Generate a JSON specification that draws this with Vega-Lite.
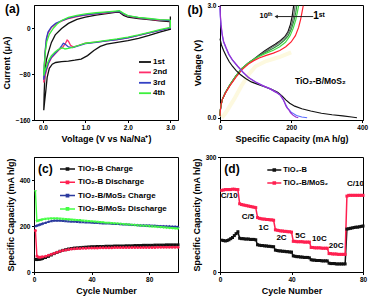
{
"$schema": "https://vega.github.io/schema/vega-lite/v6.json",
"background": "white",
"padding": {"left": 1, "top": 2, "right": 2, "bottom": 2},
"datasets": {
"cv": [
{"s":"1st","v":3.0,"i":20},{"s":"1st","v":3.0,"i":-2},{"s":"1st","v":2.75,"i":-7},{"s":"1st","v":2.5,"i":-13},{"s":"1st","v":2.25,"i":-18},{"s":"1st","v":2.0,"i":-22},{"s":"1st","v":1.75,"i":-25},{"s":"1st","v":1.5,"i":-28},{"s":"1st","v":1.35,"i":-32},{"s":"1st","v":1.2,"i":-39},{"s":"1st","v":1.05,"i":-48},{"s":"1st","v":0.9,"i":-54},{"s":"1st","v":0.75,"i":-56},{"s":"1st","v":0.6,"i":-57.5},{"s":"1st","v":0.44,"i":-58.5},{"s":"1st","v":0.3,"i":-60},{"s":"1st","v":0.22,"i":-63},{"s":"1st","v":0.15,"i":-70},{"s":"1st","v":0.1,"i":-86},{"s":"1st","v":0.07,"i":-108},{"s":"1st","v":0.04,"i":-128},{"s":"1st","v":0.02,"i":-143},
{"s":"1st","v":0.03,"i":-112},{"s":"1st","v":0.05,"i":-76},{"s":"1st","v":0.08,"i":-56},{"s":"1st","v":0.13,"i":-42},{"s":"1st","v":0.2,"i":-25},{"s":"1st","v":0.29,"i":-12},{"s":"1st","v":0.44,"i":-1},{"s":"1st","v":0.6,"i":8},{"s":"1st","v":0.8,"i":15},{"s":"1st","v":1.0,"i":19},{"s":"1st","v":1.25,"i":22.5},{"s":"1st","v":1.5,"i":25},{"s":"1st","v":1.7,"i":27},{"s":"1st","v":1.8,"i":27.5},{"s":"1st","v":1.9,"i":22},{"s":"1st","v":2.0,"i":19},{"s":"1st","v":2.25,"i":16.5},{"s":"1st","v":2.5,"i":14.5},{"s":"1st","v":2.75,"i":12.5},{"s":"1st","v":2.98,"i":11},
{"s":"2nd","v":3.0,"i":13},{"s":"2nd","v":3.0,"i":0},{"s":"2nd","v":2.75,"i":-4},{"s":"2nd","v":2.5,"i":-8.5},{"s":"2nd","v":2.25,"i":-13},{"s":"2nd","v":2.0,"i":-17},{"s":"2nd","v":1.75,"i":-20},{"s":"2nd","v":1.5,"i":-22.5},{"s":"2nd","v":1.25,"i":-24.5},{"s":"2nd","v":1.0,"i":-26.5},{"s":"2nd","v":0.85,"i":-30},{"s":"2nd","v":0.72,"i":-33},{"s":"2nd","v":0.65,"i":-30},{"s":"2nd","v":0.6,"i":-23},{"s":"2nd","v":0.57,"i":-21},{"s":"2nd","v":0.53,"i":-27},{"s":"2nd","v":0.47,"i":-33},{"s":"2nd","v":0.38,"i":-38},{"s":"2nd","v":0.3,"i":-44},{"s":"2nd","v":0.2,"i":-52},{"s":"2nd","v":0.13,"i":-62},{"s":"2nd","v":0.08,"i":-75},{"s":"2nd","v":0.04,"i":-87},{"s":"2nd","v":0.02,"i":-95},
{"s":"2nd","v":0.03,"i":-75},{"s":"2nd","v":0.05,"i":-45},{"s":"2nd","v":0.08,"i":-22},{"s":"2nd","v":0.12,"i":-9},{"s":"2nd","v":0.2,"i":1},{"s":"2nd","v":0.3,"i":7},{"s":"2nd","v":0.45,"i":12.5},{"s":"2nd","v":0.6,"i":16.5},{"s":"2nd","v":0.8,"i":20},{"s":"2nd","v":1.0,"i":22.5},{"s":"2nd","v":1.25,"i":24.5},{"s":"2nd","v":1.5,"i":26.5},{"s":"2nd","v":1.7,"i":28.5},{"s":"2nd","v":1.8,"i":29},{"s":"2nd","v":1.9,"i":24},{"s":"2nd","v":2.0,"i":20.5},{"s":"2nd","v":2.25,"i":17.5},{"s":"2nd","v":2.5,"i":15.5},{"s":"2nd","v":2.75,"i":13.5},{"s":"2nd","v":3.0,"i":13},
{"s":"3rd","v":3.0,"i":13},{"s":"3rd","v":3.0,"i":0},{"s":"3rd","v":2.75,"i":-4},{"s":"3rd","v":2.5,"i":-8.5},{"s":"3rd","v":2.25,"i":-13},{"s":"3rd","v":2.0,"i":-17},{"s":"3rd","v":1.75,"i":-20},{"s":"3rd","v":1.5,"i":-22.5},{"s":"3rd","v":1.25,"i":-25},{"s":"3rd","v":1.0,"i":-27},{"s":"3rd","v":0.85,"i":-30.5},{"s":"3rd","v":0.7,"i":-34},{"s":"3rd","v":0.6,"i":-33},{"s":"3rd","v":0.52,"i":-28},{"s":"3rd","v":0.48,"i":-26.5},{"s":"3rd","v":0.44,"i":-31},{"s":"3rd","v":0.38,"i":-37},{"s":"3rd","v":0.3,"i":-43},{"s":"3rd","v":0.2,"i":-51},{"s":"3rd","v":0.13,"i":-61},{"s":"3rd","v":0.08,"i":-72},{"s":"3rd","v":0.04,"i":-82},{"s":"3rd","v":0.02,"i":-90},
{"s":"3rd","v":0.03,"i":-70},{"s":"3rd","v":0.05,"i":-42},{"s":"3rd","v":0.08,"i":-19},{"s":"3rd","v":0.12,"i":-7},{"s":"3rd","v":0.2,"i":2},{"s":"3rd","v":0.3,"i":8},{"s":"3rd","v":0.45,"i":13},{"s":"3rd","v":0.6,"i":17},{"s":"3rd","v":0.8,"i":20.5},{"s":"3rd","v":1.0,"i":23},{"s":"3rd","v":1.25,"i":25},{"s":"3rd","v":1.5,"i":27},{"s":"3rd","v":1.7,"i":28.5},{"s":"3rd","v":1.8,"i":29},{"s":"3rd","v":1.9,"i":24.5},{"s":"3rd","v":2.0,"i":21},{"s":"3rd","v":2.25,"i":18},{"s":"3rd","v":2.5,"i":16},{"s":"3rd","v":2.75,"i":14},{"s":"3rd","v":3.0,"i":13},
{"s":"4th","v":3.0,"i":14},{"s":"4th","v":3.0,"i":1},{"s":"4th","v":2.75,"i":-3},{"s":"4th","v":2.5,"i":-7.5},{"s":"4th","v":2.25,"i":-12},{"s":"4th","v":2.0,"i":-16},{"s":"4th","v":1.75,"i":-19},{"s":"4th","v":1.5,"i":-21.5},{"s":"4th","v":1.25,"i":-24},{"s":"4th","v":1.0,"i":-26.5},{"s":"4th","v":0.85,"i":-30},{"s":"4th","v":0.7,"i":-33.5},{"s":"4th","v":0.6,"i":-35.5},{"s":"4th","v":0.52,"i":-36.5},{"s":"4th","v":0.47,"i":-34.5},{"s":"4th","v":0.42,"i":-35},{"s":"4th","v":0.35,"i":-38},{"s":"4th","v":0.28,"i":-42},{"s":"4th","v":0.2,"i":-48},{"s":"4th","v":0.13,"i":-57},{"s":"4th","v":0.08,"i":-67},{"s":"4th","v":0.04,"i":-76},{"s":"4th","v":0.02,"i":-83},
{"s":"4th","v":0.03,"i":-65},{"s":"4th","v":0.06,"i":-40},{"s":"4th","v":0.09,"i":-24},{"s":"4th","v":0.15,"i":-11},{"s":"4th","v":0.25,"i":0},{"s":"4th","v":0.35,"i":8},{"s":"4th","v":0.45,"i":13.5},{"s":"4th","v":0.6,"i":18.5},{"s":"4th","v":0.8,"i":22},{"s":"4th","v":1.0,"i":24.5},{"s":"4th","v":1.25,"i":26.5},{"s":"4th","v":1.5,"i":28},{"s":"4th","v":1.7,"i":29.5},{"s":"4th","v":1.8,"i":30},{"s":"4th","v":1.9,"i":25.5},{"s":"4th","v":2.0,"i":21.5},{"s":"4th","v":2.25,"i":18.5},{"s":"4th","v":2.5,"i":16.5},{"s":"4th","v":2.75,"i":14.5},{"s":"4th","v":3.0,"i":14}
],
"yb": [
{"c":5,"v":0.0},{"c":15,"v":0.12},{"c":25,"v":0.27},{"c":40,"v":0.5},{"c":60,"v":0.85},{"c":80,"v":1.15},{"c":100,"v":1.38},{"c":130,"v":1.52},{"c":165,"v":1.62},{"c":200,"v":1.75}
],
"gc": [
{"s":"cb","c":0,"v":0.05},{"s":"cb","c":1,"v":0.2},{"s":"cb","c":3,"v":0.35},{"s":"cb","c":7,"v":0.5},{"s":"cb","c":15,"v":0.67},{"s":"cb","c":28,"v":0.88},{"s":"cb","c":45,"v":1.12},{"s":"cb","c":62,"v":1.32},{"s":"cb","c":80,"v":1.47},{"s":"cb","c":95,"v":1.57},{"s":"cb","c":110,"v":1.68},{"s":"cb","c":125,"v":1.79},{"s":"cb","c":140,"v":1.88},{"s":"cb","c":155,"v":1.97},{"s":"cb","c":170,"v":2.07},{"s":"cb","c":182,"v":2.17},{"s":"cb","c":191,"v":2.3},{"s":"cb","c":198,"v":2.5},{"s":"cb","c":203,"v":2.72},{"s":"cb","c":207,"v":3.0},
{"s":"cg","c":0,"v":0.05},{"s":"cg","c":1,"v":0.2},{"s":"cg","c":3,"v":0.35},{"s":"cg","c":7,"v":0.5},{"s":"cg","c":15,"v":0.67},{"s":"cg","c":28,"v":0.88},{"s":"cg","c":45,"v":1.12},{"s":"cg","c":62,"v":1.32},{"s":"cg","c":80,"v":1.47},{"s":"cg","c":95,"v":1.57},{"s":"cg","c":110,"v":1.67},{"s":"cg","c":128,"v":1.78},{"s":"cg","c":145,"v":1.88},{"s":"cg","c":160,"v":1.97},{"s":"cg","c":175,"v":2.08},{"s":"cg","c":187,"v":2.2},{"s":"cg","c":196,"v":2.35},{"s":"cg","c":203,"v":2.55},{"s":"cg","c":208,"v":2.78},{"s":"cg","c":211,"v":3.0},
{"s":"cd","c":0,"v":0.05},{"s":"cd","c":1,"v":0.2},{"s":"cd","c":3,"v":0.35},{"s":"cd","c":7,"v":0.5},{"s":"cd","c":15,"v":0.67},{"s":"cd","c":28,"v":0.88},{"s":"cd","c":45,"v":1.12},{"s":"cd","c":62,"v":1.32},{"s":"cd","c":80,"v":1.47},{"s":"cd","c":95,"v":1.57},{"s":"cd","c":110,"v":1.66},{"s":"cd","c":130,"v":1.76},{"s":"cd","c":150,"v":1.86},{"s":"cd","c":165,"v":1.95},{"s":"cd","c":180,"v":2.07},{"s":"cd","c":192,"v":2.2},{"s":"cd","c":201,"v":2.38},{"s":"cd","c":208,"v":2.6},{"s":"cd","c":213,"v":2.82},{"s":"cd","c":216,"v":3.0},
{"s":"cl","c":0,"v":0.05},{"s":"cl","c":1,"v":0.2},{"s":"cl","c":3,"v":0.35},{"s":"cl","c":7,"v":0.5},{"s":"cl","c":15,"v":0.67},{"s":"cl","c":28,"v":0.88},{"s":"cl","c":45,"v":1.12},{"s":"cl","c":62,"v":1.32},{"s":"cl","c":80,"v":1.47},{"s":"cl","c":95,"v":1.56},{"s":"cl","c":110,"v":1.64},{"s":"cl","c":130,"v":1.73},{"s":"cl","c":150,"v":1.81},{"s":"cl","c":168,"v":1.9},{"s":"cl","c":184,"v":2.02},{"s":"cl","c":197,"v":2.2},{"s":"cl","c":206,"v":2.4},{"s":"cl","c":213,"v":2.62},{"s":"cl","c":218,"v":2.85},{"s":"cl","c":221,"v":3.0},
{"s":"cr","c":0,"v":0.05},{"s":"cr","c":1,"v":0.2},{"s":"cr","c":3,"v":0.35},{"s":"cr","c":7,"v":0.5},{"s":"cr","c":15,"v":0.66},{"s":"cr","c":28,"v":0.86},{"s":"cr","c":45,"v":1.09},{"s":"cr","c":62,"v":1.29},{"s":"cr","c":80,"v":1.44},{"s":"cr","c":95,"v":1.53},{"s":"cr","c":110,"v":1.6},{"s":"cr","c":130,"v":1.67},{"s":"cr","c":150,"v":1.73},{"s":"cr","c":168,"v":1.8},{"s":"cr","c":185,"v":1.9},{"s":"cr","c":200,"v":2.03},{"s":"cr","c":212,"v":2.2},{"s":"cr","c":221,"v":2.42},{"s":"cr","c":227,"v":2.65},{"s":"cr","c":231,"v":2.85},{"s":"cr","c":234,"v":3.0},
{"s":"db","c":0,"v":2.12},{"s":"db","c":4,"v":1.95},{"s":"db","c":10,"v":1.8},{"s":"db","c":18,"v":1.64},{"s":"db","c":26,"v":1.5},{"s":"db","c":35,"v":1.38},{"s":"db","c":45,"v":1.27},{"s":"db","c":58,"v":1.15},{"s":"db","c":72,"v":1.05},{"s":"db","c":88,"v":0.96},{"s":"db","c":105,"v":0.9},{"s":"db","c":125,"v":0.83},{"s":"db","c":145,"v":0.76},{"s":"db","c":162,"v":0.68},{"s":"db","c":175,"v":0.58},{"s":"db","c":185,"v":0.48},{"s":"db","c":196,"v":0.39},{"s":"db","c":210,"v":0.31},{"s":"db","c":230,"v":0.24},{"s":"db","c":255,"v":0.18},{"s":"db","c":285,"v":0.12},{"s":"db","c":315,"v":0.08},{"s":"db","c":345,"v":0.05},{"s":"db","c":370,"v":0.02},{"s":"db","c":385,"v":0.0},
{"s":"du","c":0,"v":2.95},{"s":"du","c":1,"v":2.7},{"s":"du","c":3,"v":2.45},{"s":"du","c":6,"v":2.22},{"s":"du","c":10,"v":2.03},{"s":"du","c":17,"v":1.86},{"s":"du","c":25,"v":1.69},{"s":"du","c":35,"v":1.54},{"s":"du","c":50,"v":1.37},{"s":"du","c":65,"v":1.21},{"s":"du","c":80,"v":1.08},{"s":"du","c":100,"v":0.96},{"s":"du","c":120,"v":0.86},{"s":"du","c":140,"v":0.78},{"s":"du","c":158,"v":0.68},{"s":"du","c":170,"v":0.6},{"s":"du","c":177,"v":0.5},{"s":"du","c":183,"v":0.38},{"s":"du","c":190,"v":0.26},{"s":"du","c":200,"v":0.15},{"s":"du","c":215,"v":0.06},{"s":"du","c":230,"v":0.02},{"s":"du","c":245,"v":0.0},
{"s":"dp","c":0,"v":3.0},{"s":"dp","c":1,"v":2.75},{"s":"dp","c":3,"v":2.5},{"s":"dp","c":6,"v":2.25},{"s":"dp","c":10,"v":2.05},{"s":"dp","c":17,"v":1.88},{"s":"dp","c":25,"v":1.7},{"s":"dp","c":35,"v":1.55},{"s":"dp","c":50,"v":1.38},{"s":"dp","c":65,"v":1.22},{"s":"dp","c":80,"v":1.08},{"s":"dp","c":100,"v":0.96},{"s":"dp","c":120,"v":0.86},{"s":"dp","c":140,"v":0.78},{"s":"dp","c":158,"v":0.68},{"s":"dp","c":170,"v":0.6},{"s":"dp","c":177,"v":0.5},{"s":"dp","c":182,"v":0.4},{"s":"dp","c":185,"v":0.32},{"s":"dp","c":188,"v":0.27},{"s":"dp","c":193,"v":0.22},{"s":"dp","c":198,"v":0.14},{"s":"dp","c":205,"v":0.07},{"s":"dp","c":213,"v":0.02},{"s":"dp","c":220,"v":0.0}
],
"cyc": [
{"n":1,"a":55,"b":180,"c":200,"d":350},{"n":2,"a":54,"b":70,"c":203,"d":220},{"n":3,"a":55,"b":65,"c":205,"d":222},{"n":4,"a":56,"b":64,"c":207,"d":224},{"n":5,"a":57,"b":65,"c":209,"d":226},{"n":6,"a":59,"b":66,"c":211,"d":228},{"n":8,"a":63,"b":69,"c":215,"d":230},{"n":10,"a":68,"b":73,"c":219,"d":231},{"n":12,"a":74,"b":77,"c":222,"d":232},{"n":14,"a":80,"b":82,"c":224,"d":232},{"n":16,"a":85,"b":86,"c":224,"d":232},{"n":18,"a":90,"b":90,"c":224,"d":231},{"n":20,"a":94,"b":93,"c":223,"d":230},{"n":22,"a":97,"b":96,"c":222,"d":229},{"n":24,"a":100,"b":98,"c":221,"d":228},{"n":26,"a":102,"b":100,"c":220,"d":227},{"n":28,"a":104,"b":101,"c":220,"d":226},{"n":30,"a":105,"b":102,"c":219,"d":225},{"n":32,"a":106,"b":102.5,"c":218,"d":224},{"n":34,"a":107,"b":103,"c":218,"d":222},{"n":36,"a":108,"b":103.5,"c":217,"d":221},{"n":38,"a":109,"b":104,"c":217,"d":220},{"n":40,"a":110,"b":104,"c":216,"d":219},{"n":42,"a":110,"b":104,"c":215,"d":218},{"n":44,"a":111,"b":104,"c":215,"d":217},{"n":46,"a":111,"b":105,"c":214,"d":216},{"n":48,"a":111,"b":105,"c":213,"d":215},{"n":50,"a":112,"b":105,"c":212,"d":213},{"n":52,"a":112,"b":105,"c":212,"d":212},{"n":54,"a":112,"b":105,"c":211,"d":211},{"n":56,"a":113,"b":106,"c":210,"d":210},{"n":58,"a":113,"b":106,"c":210,"d":209},{"n":60,"a":113,"b":106,"c":209,"d":208},{"n":62,"a":113,"b":106,"c":208,"d":207},{"n":64,"a":114,"b":106,"c":208,"d":206},{"n":66,"a":114,"b":106,"c":207,"d":205},{"n":68,"a":114,"b":107,"c":206,"d":204},{"n":70,"a":115,"b":107,"c":206,"d":203},{"n":72,"a":115,"b":107,"c":205,"d":202},{"n":74,"a":115,"b":107,"c":204,"d":201},{"n":76,"a":116,"b":107,"c":204,"d":200},{"n":78,"a":116,"b":107,"c":203,"d":199},{"n":80,"a":116,"b":107,"c":203,"d":198},{"n":82,"a":116,"b":107,"c":202,"d":197},{"n":84,"a":117,"b":107,"c":202,"d":196},{"n":86,"a":117,"b":108,"c":201,"d":195},{"n":88,"a":117,"b":108,"c":200,"d":194},{"n":90,"a":117,"b":108,"c":200,"d":193},{"n":92,"a":118,"b":108,"c":199,"d":192},{"n":94,"a":118,"b":108,"c":199,"d":191},{"n":96,"a":118,"b":108,"c":198,"d":190},{"n":98,"a":118,"b":108,"c":198,"d":189},{"n":100,"a":118,"b":108,"c":197,"d":188}
],
"rate": [
{"n":1,"a":83,"b":213},{"n":2,"a":82,"b":214},{"n":3,"a":81,"b":215},{"n":4,"a":82,"b":215},{"n":5,"a":84,"b":215},{"n":6,"a":87,"b":215},{"n":7,"a":90,"b":216},{"n":8,"a":95,"b":216},{"n":9,"a":100,"b":215},{"n":10,"a":105,"b":215},
{"n":11,"a":88,"b":178},{"n":12,"a":87,"b":176},{"n":13,"a":87,"b":175},{"n":14,"a":86,"b":174},{"n":15,"a":86,"b":173},{"n":16,"a":86,"b":172},{"n":17,"a":85,"b":171},{"n":18,"a":85,"b":170},{"n":19,"a":85,"b":169},{"n":20,"a":84,"b":168},
{"n":21,"a":71,"b":142},{"n":22,"a":70,"b":140},{"n":23,"a":69,"b":139},{"n":24,"a":69,"b":138},{"n":25,"a":68,"b":138},{"n":26,"a":68,"b":137},{"n":27,"a":67,"b":137},{"n":28,"a":67,"b":136},{"n":29,"a":66,"b":136},{"n":30,"a":66,"b":135},
{"n":31,"a":57,"b":110},{"n":32,"a":56,"b":109},{"n":33,"a":55,"b":108},{"n":34,"a":55,"b":107},{"n":35,"a":54,"b":107},{"n":36,"a":54,"b":106},{"n":37,"a":53,"b":106},{"n":38,"a":53,"b":105},{"n":39,"a":52,"b":105},{"n":40,"a":52,"b":104},
{"n":41,"a":42,"b":80},{"n":42,"a":41,"b":80},{"n":43,"a":40,"b":79},{"n":44,"a":40,"b":79},{"n":45,"a":39,"b":79},{"n":46,"a":39,"b":79},{"n":47,"a":38,"b":78},{"n":48,"a":38,"b":78},{"n":49,"a":38,"b":78},{"n":50,"a":37,"b":78},
{"n":51,"a":32,"b":64},{"n":52,"a":31,"b":64},{"n":53,"a":31,"b":63},{"n":54,"a":30,"b":63},{"n":55,"a":30,"b":63},{"n":56,"a":30,"b":63},{"n":57,"a":29,"b":62},{"n":58,"a":29,"b":62},{"n":59,"a":29,"b":62},{"n":60,"a":29,"b":62},
{"n":61,"a":23,"b":48},{"n":62,"a":22,"b":48},{"n":63,"a":22,"b":47},{"n":64,"a":22,"b":47},{"n":65,"a":21,"b":47},{"n":66,"a":21,"b":46},{"n":67,"a":21,"b":46},{"n":68,"a":21,"b":46},{"n":69,"a":21,"b":46},{"n":70,"a":21,"b":46},
{"n":71,"a":112,"b":198},{"n":72,"a":113,"b":200},{"n":73,"a":114,"b":200},{"n":74,"a":115,"b":200},{"n":75,"a":116,"b":200},{"n":76,"a":117,"b":200},{"n":77,"a":117,"b":200},{"n":78,"a":118,"b":200},{"n":79,"a":119,"b":200},{"n":80,"a":120,"b":200}
],
"ratelab": [
{"n":5.2,"v":198,"t":"C/10"},{"n":15.7,"v":143,"t":"C/5"},{"n":24.4,"v":115,"t":"1C"},{"n":34.4,"v":88,"t":"2C"},{"n":45,"v":94,"t":"5C"},{"n":55.6,"v":87,"t":"10C"},{"n":65,"v":67,"t":"20C"},{"n":75.8,"v":230,"t":"C/10"}
]
},
"columns": 2,
"spacing": {"row": 37, "column": 42},
"bounds": "flush",
"resolve": {"scale": {"x": "independent", "y": "independent", "color": "independent"}, "axis": {"x": "independent", "y": "independent"}, "legend": {"color": "independent"}},
"concat": [
{
 "width": 144, "height": 115,
 "layer": [
  {"data": {"name": "cv"}, "mark": {"type": "line", "strokeWidth": 1.3},
   "encoding": {
    "x": {"field": "v", "type": "quantitative", "scale": {"domain": [-0.21, 3.18], "nice": false, "zero": false},
      "axis": {"title": "Voltage (V vs Na/Na⁺)", "labelOverlap": false, "values": [0,0.25,0.5,0.75,1,1.25,1.5,1.75,2,2.25,2.5,2.75,3], "format": ".1f", "labelExpr": "(datum.value*2)%1==0 ? datum.label : ''"}},
    "y": {"field": "i", "type": "quantitative", "scale": {"domain": [-160, 40], "nice": false}, "axis": {"title": "Current (μA)", "labelOverlap": false, "values": [-160,-120,-80,-40,0,40]}},
    "color": {"field": "s", "type": "nominal", "scale": {"domain": ["1st","2nd","3rd","4th"], "range": ["#111111","#ff2d6b","#3341c4","#3cf03c"]},
      "legend": {"orient": "none", "legendX": 106, "legendY": 52, "title": null, "symbolType": "M-1.5,0H1.5", "symbolSize": 64, "symbolStrokeWidth": 1.8, "labelOffset": 3, "labelFontSize": 8, "rowPadding": 1.4}},
    "order": {"value": null}
   }},
  {"data": {"values": [{"t": "(a)"}]}, "mark": {"type": "text", "fontSize": 12, "fontWeight": "bold"},
   "encoding": {"x": {"datum": -0.72}, "y": {"datum": 33}, "text": {"field": "t"}}}
 ]
},
{
 "width": 143, "height": 115,
 "layer": [
  {"data": {"name": "yb"}, "mark": {"type": "line", "strokeWidth": 4, "color": "#fdf9df"},
   "encoding": {"x": {"field": "c", "type": "quantitative", "scale": {"domain": [0, 402], "nice": false},
      "axis": {"title": "Specific Capacity (mA h/g)", "labelOverlap": false, "values": [0,50,100,150,200,250,300,350,400], "labelExpr": "datum.value%100==0 ? datum.label : ''"}},
    "y": {"field": "v", "type": "quantitative", "scale": {"domain": [-0.06, 3.02], "nice": false, "zero": false},
      "axis": {"title": "Voltage (V)", "labelOverlap": false, "values": [0,0.5,1,1.5,2,2.5,3], "format": ".1f"}},
    "order": {"value": null}}},
  {"data": {"name": "gc"}, "mark": {"type": "line", "strokeWidth": 1.2},
   "encoding": {"x": {"field": "c", "type": "quantitative"}, "y": {"field": "v", "type": "quantitative"},
    "color": {"field": "s", "type": "nominal", "legend": null, "scale": {"domain": ["cb","cg","cd","cl","cr","db","du","dp"], "range": ["#111111","#666666","#2f8f3f","#44dd44","#ff1f2f","#111111","#5a6cff","#9b30d0"]}},
    "order": {"value": null}}},
  {"data": {"values": [{"t": "TiO₂-B/MoS₂"}]}, "mark": {"type": "text", "fontSize": 8.5, "fontWeight": "bold"},
   "encoding": {"x": {"datum": 282}, "y": {"datum": 0.98}, "text": {"field": "t"}}},
  {"data": {"values": [{"t": "10ᵗʰ"}]}, "mark": {"type": "text", "fontSize": 7.5, "fontWeight": "bold"},
   "encoding": {"x": {"datum": 129}, "y": {"datum": 2.72}, "text": {"field": "t"}}},
  {"data": {"values": [{"t": "1ˢᵗ"}]}, "mark": {"type": "text", "fontSize": 10, "fontWeight": "bold"},
   "encoding": {"x": {"datum": 278}, "y": {"datum": 2.72}, "text": {"field": "t"}}},
  {"data": {"values": [{"t": "a"}]}, "mark": {"type": "rule", "color": "#222222", "strokeWidth": 1},
   "encoding": {"x": {"datum": 158}, "x2": {"datum": 262}, "y": {"datum": 2.71}}},
  {"data": {"values": [{"t": "a"}]}, "mark": {"type": "point", "shape": "triangle-left", "filled": true, "color": "#222222", "size": 14, "opacity": 1},
   "encoding": {"x": {"datum": 158}, "y": {"datum": 2.71}}},
  {"data": {"values": [{"t": "(b)"}]}, "mark": {"type": "text", "fontSize": 12, "fontWeight": "bold"},
   "encoding": {"x": {"datum": -70}, "y": {"datum": 2.88}, "text": {"field": "t"}}}
 ]
},
{
 "width": 144, "height": 115,
 "layer": [
  {"data": {"name": "cyc"}, "transform": [{"fold": ["a","b","c","d"], "as": ["k","val"]}],
   "mark": {"type": "line", "strokeWidth": 1.4},
   "encoding": {
    "x": {"field": "n", "type": "quantitative", "scale": {"domain": [0, 100], "nice": false},
      "axis": {"title": "Cycle Number", "labelOverlap": false, "values": [0,10,20,30,40,50,60,70,80,90,100], "labelExpr": "datum.value%20==0 ? datum.label : ''"}},
    "y": {"field": "val", "type": "quantitative", "scale": {"domain": [0, 500], "nice": false},
      "axis": {"title": "Specific Capacity (mA h/g)", "labelOverlap": false, "values": [0,100,200,300,400,500]}},
    "color": {"field": "k", "type": "nominal", "scale": {"domain": ["a","b","c","d"], "range": ["#111111","#ff2050","#2b3a9e","#44ff44"]},
      "legend": {"orient": "none", "legendX": 27.5, "legendY": 6, "title": null, "symbolType": "M-1.5,0H1.5M-0.22,-0.22H0.22V0.22H-0.22Z", "symbolSize": 100, "symbolStrokeWidth": 1.5, "labelOffset": 4.5, "labelFontSize": 8, "rowPadding": 2.3,
        "labelExpr": "{'a':'TiO₂-B Charge','b':'TiO₂-B Discharge','c':'TiO₂-B/MoS₂ Charge','d':'TiO₂-B/MoS₂ Discharge'}[datum.label]"}}
   }},
  {"data": {"name": "cyc"}, "transform": [{"fold": ["a"], "as": ["k","val"]}],
   "mark": {"type": "point", "filled": true, "size": 9, "opacity": 1, "shape": "square"},
   "encoding": {"x": {"field": "n", "type": "quantitative"}, "y": {"field": "val", "type": "quantitative"}, "color": {"field": "k", "type": "nominal", "legend": null}}},
  {"data": {"name": "cyc"}, "transform": [{"fold": ["b"], "as": ["k","val"]}],
   "mark": {"type": "point", "filled": true, "size": 9, "opacity": 1, "shape": "circle"},
   "encoding": {"x": {"field": "n", "type": "quantitative"}, "y": {"field": "val", "type": "quantitative"}, "color": {"field": "k", "type": "nominal", "legend": null}}},
  {"data": {"name": "cyc"}, "transform": [{"fold": ["c"], "as": ["k","val"]}],
   "mark": {"type": "point", "filled": true, "size": 10, "opacity": 1, "shape": "triangle-up"},
   "encoding": {"x": {"field": "n", "type": "quantitative"}, "y": {"field": "val", "type": "quantitative"}, "color": {"field": "k", "type": "nominal", "legend": null}}},
  {"data": {"name": "cyc"}, "transform": [{"fold": ["d"], "as": ["k","val"]}],
   "mark": {"type": "point", "filled": true, "size": 10, "opacity": 1, "shape": "triangle-down"},
   "encoding": {"x": {"field": "n", "type": "quantitative"}, "y": {"field": "val", "type": "quantitative"}, "color": {"field": "k", "type": "nominal", "legend": null}}},
  {"data": {"values": [{"t": "(c)"}]}, "mark": {"type": "text", "fontSize": 12, "fontWeight": "bold"},
   "encoding": {"x": {"datum": 7.9}, "y": {"datum": 448}, "text": {"field": "t"}}}
 ]
},
{
 "width": 143, "height": 115,
 "layer": [
  {"data": {"name": "rate"}, "transform": [{"fold": ["a","b"], "as": ["k","val"]}],
   "mark": {"type": "line", "strokeWidth": 1.5},
   "encoding": {
    "x": {"field": "n", "type": "quantitative", "scale": {"domain": [0, 80], "nice": false},
      "axis": {"title": "Cycle Number", "labelOverlap": false, "values": [0,5,10,15,20,25,30,35,40,45,50,55,60,65,70,75,80], "labelExpr": "datum.value%10==0 ? datum.label : ''"}},
    "y": {"field": "val", "type": "quantitative", "scale": {"domain": [0, 300], "nice": false},
      "axis": {"title": "Specific Capacity (mA h/g)", "labelOverlap": false, "values": [0,50,100,150,200,250,300]}},
    "color": {"field": "k", "type": "nominal", "scale": {"domain": ["a","b"], "range": ["#111111","#ff2050"]},
      "legend": {"orient": "none", "legendX": 48.3, "legendY": 7, "title": null, "symbolType": "M-1.4,0H1.4M-0.2,-0.2H0.2V0.2H-0.2Z", "symbolSize": 100, "symbolStrokeWidth": 1.6, "labelOffset": 3, "labelFontSize": 7.5, "rowPadding": 2,
        "labelExpr": "{'a':'TiO₂-B','b':'TiO₂-B/MoS₂'}[datum.label]"}}
   }},
  {"data": {"name": "rate"}, "transform": [{"fold": ["a","b"], "as": ["k","val"]}],
   "mark": {"type": "point", "filled": true, "size": 9, "opacity": 1, "shape": "square"},
   "encoding": {"x": {"field": "n", "type": "quantitative"}, "y": {"field": "val", "type": "quantitative"}, "color": {"field": "k", "type": "nominal", "legend": null}}},
  {"data": {"name": "ratelab"}, "mark": {"type": "text", "fontSize": 8, "fontWeight": "bold"},
   "encoding": {"x": {"field": "n", "type": "quantitative"}, "y": {"field": "v", "type": "quantitative"}, "text": {"field": "t"}}},
  {"data": {"values": [{"t": "(d)"}]}, "mark": {"type": "text", "fontSize": 12, "fontWeight": "bold"},
   "encoding": {"x": {"datum": 6.7}, "y": {"datum": 269}, "text": {"field": "t"}}}
 ]
}
],
"config": {
 "font": "Liberation Sans",
 "view": {"stroke": "#000000", "strokeWidth": 1},
 "axis": {"grid": false, "domainColor": "#000000", "domainWidth": 1, "tickColor": "#000000", "tickSize": 2.5, "tickWidth": 1,
   "labelFont": "Liberation Sans", "labelFontSize": 6.5, "labelFontWeight": "bold", "labelColor": "#000000", "labelPadding": 1.5, "labelOverlap": false, "labelFlush": false,
   "titleFont": "Liberation Sans", "titleFontSize": 9, "titleFontWeight": "bold", "titleColor": "#000000", "titlePadding": 4},
 "legend": {"labelFont": "Liberation Sans", "labelFontWeight": "bold", "labelColor": "#000000", "padding": 0},
 "text": {"font": "Liberation Sans", "fontWeight": "bold", "color": "#000000"}
}
}
